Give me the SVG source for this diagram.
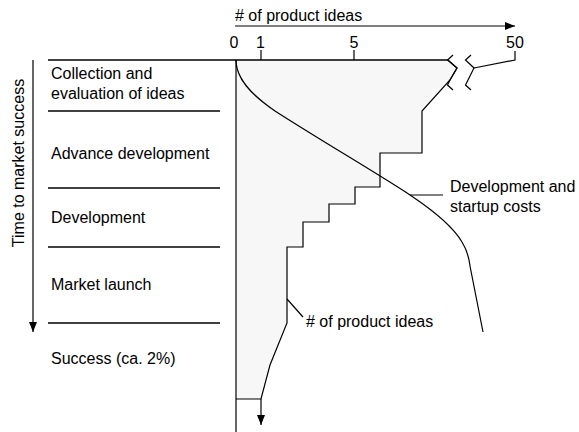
<svg xmlns="http://www.w3.org/2000/svg" width="579" height="432" viewBox="0 0 579 432">
<style>
text{font-family:"Liberation Sans",Arial,sans-serif;font-size:16px;fill:#000}
.ln{fill:none;stroke:#000;stroke-width:1.2}
.sep{fill:none;stroke:#000;stroke-width:1.4}
.mid{text-anchor:middle}
</style>
<defs>
<marker id="ah" viewBox="0 0 10 8" refX="10" refY="4" markerWidth="10" markerHeight="8" markerUnits="userSpaceOnUse" orient="auto">
<path d="M0,0 L10,4 L0,8 Z" fill="#000"/>
</marker>
</defs>
<rect width="579" height="432" fill="#fff"/>

<g id="area">
<path d="M236,60 L448,60 L457,68 L450,80 L422,111 L422,153 L380,153 L380,187 L355,187 L355,204 L329,204 L329,222 L303,222 L303,247 L287,247 L287,323 L270,365 L261,399 L236,399 Z" fill="#f7f7f7" stroke="none"/>
<path class="ln" d="M448,60 L457,68 L450,80 L422,111 L422,153 L380,153 L380,187 L355,187 L355,204 L329,204 L329,222 L303,222 L303,247 L287,247 L287,323 L270,365 L261,399 L236,399"/>
</g>

<g id="axes">
<line class="sep" x1="48" y1="60" x2="448" y2="60"/>
<line class="ln" x1="236" y1="60" x2="236" y2="432"/>
<polyline class="ln" points="453,55 447.5,60 457,68 450,80 447.5,85 453,90"/>
<polyline class="ln" points="471,55 465.5,60 474,68 468,80 465.5,85 471,90"/>
<polyline class="ln" points="474,68 515,60 515,51"/>
<line class="ln" x1="261" y1="50" x2="261" y2="60"/>
<line class="ln" x1="354" y1="50" x2="354" y2="60"/>
<text class="mid" x="234" y="48">0</text>
<text class="mid" x="260.5" y="48">1</text>
<text class="mid" x="354" y="48">5</text>
<text class="mid" x="515" y="48">50</text>
<line class="ln" x1="235" y1="26" x2="515" y2="26" marker-end="url(#ah)"/>
<text x="235" y="21">#&#160;of product ideas</text>
</g>

<g id="phases">
<line class="sep" x1="48" y1="111" x2="220" y2="111"/>
<line class="sep" x1="48" y1="188" x2="220" y2="188"/>
<line class="sep" x1="48" y1="247" x2="220" y2="247"/>
<line class="sep" x1="48" y1="323" x2="220" y2="323"/>
<text x="51" y="79">Collection and</text>
<text x="51" y="99">evaluation of ideas</text>
<text x="51" y="159">Advance development</text>
<text x="51" y="223">Development</text>
<text x="51" y="290">Market launch</text>
<text x="51" y="364">Success (ca. 2%)</text>
</g>

<g id="time-axis">
<line class="ln" x1="33" y1="60" x2="33" y2="332" marker-end="url(#ah)"/>
<text class="mid" transform="translate(24,163) rotate(-90)">Time to market success</text>
</g>

<g id="cost-curve">
<path class="ln" d="M236,60 C236,78 250,94 275,111 C320,140 380,175 410,195 C440,215 455,230 462,242 C467,250 469,258 470,266 L483,332"/>
</g>

<g id="connectors">
<line class="ln" x1="410" y1="195" x2="443" y2="195"/>
<line class="ln" x1="287" y1="299" x2="303" y2="317"/>
<line class="ln" x1="261" y1="399" x2="261" y2="425" marker-end="url(#ah)"/>
</g>

<g id="labels">
<text x="450" y="192">Development and</text>
<text x="450" y="211.5">startup costs</text>
<text x="306" y="327">#&#160;of product ideas</text>
</g>
</svg>
